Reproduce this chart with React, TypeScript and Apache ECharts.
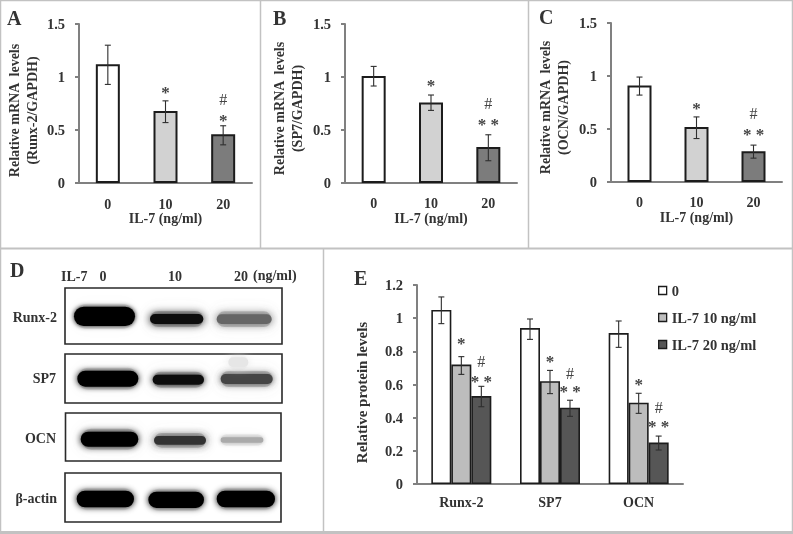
import React, { useEffect, useRef } from "react";
import * as echarts from "echarts";

const doseLabels = ["0", "10", "20"];
const proteinLabels = ["Runx-2", "SP7", "OCN"];
const legendNames = ["0", "IL-7 10 ng/ml", "IL-7 20 ng/ml"];

const aMean = [1.12, 0.68, 0.46];
const aHigh = [1.3, 0.775, 0.54];
const aLow = [0.93, 0.57, 0.36];
const bMean = [1.01, 0.76, 0.34];
const bHigh = [1.1, 0.83, 0.455];
const bLow = [0.915, 0.685, 0.21];
const cMean = [0.91, 0.52, 0.29];
const cHigh = [0.99, 0.614, 0.348];
const cLow = [0.82, 0.41, 0.225];

const eMean0 = [1.05, 0.94, 0.91];
const eHigh0 = [1.128, 0.995, 0.983];
const eLow0 = [0.967, 0.872, 0.824];
const eMean10 = [0.72, 0.62, 0.49];
const eHigh10 = [0.768, 0.685, 0.547];
const eLow10 = [0.661, 0.545, 0.426];
const eMean20 = [0.53, 0.46, 0.25];
const eHigh20 = [0.589, 0.505, 0.289];
const eLow20 = [0.466, 0.408, 0.205];

const aMarks: [number, number, string][] = [[1, 0.879, "*"], [2, 0.79, "#"], [2, 0.615, "*"]];
const bMarks: [number, number, string][] = [[1, 0.941, "*"], [2, 0.747, "#"], [2, 0.571, "* *"]];
const cMarks: [number, number, string][] = [[1, 0.717, "*"], [2, 0.642, "#"], [2, 0.473, "* *"]];
const eMarks10: [number, number, string][] = [[0, 0.864, "*"], [1, 0.752, "*"], [2, 0.613, "*"]];
const eMarks20: [number, number, string][] = [
  [0, 0.738, "#"], [0, 0.631, "* *"], [1, 0.667, "#"], [1, 0.571, "* *"], [2, 0.46, "#"], [2, 0.362, "* *"],
];

const FONT = "Liberation Serif";
const INK = "#333333";
const AXIS = "#808080";
const dosePalette = ["#ffffff", "#d2d2d2", "#7c7c7c"];
const proteinPalette = ["#ffffff", "#bdbdbd", "#565656"];

function errorSeries(name: string, idx: number, high: number[], low: number[], slot: number, slotWidth: number, z = 4) {
  return {
    type: "custom", name, xAxisIndex: idx, yAxisIndex: idx, z, silent: true,
    data: high.map((h, i) => [i, h, low[i]]),
    renderItem: (_: any, api: any) => {
      const top = api.coord([api.value(0), api.value(1)]);
      const bot = api.coord([api.value(0), api.value(2)]);
      const x = top[0] + slot * slotWidth;
      const s = { stroke: "#2e2e2e", lineWidth: 1.1 };
      return {
        type: "group",
        children: [
          { type: "line", shape: { x1: x, y1: top[1], x2: x, y2: bot[1] }, style: s },
          { type: "line", shape: { x1: x - 3, y1: top[1], x2: x + 3, y2: top[1] }, style: s },
          { type: "line", shape: { x1: x - 3, y1: bot[1], x2: x + 3, y2: bot[1] }, style: s },
        ],
      };
    },
  };
}

function markSeries(name: string, idx: number, marks: [number, number, string][], slot: number, slotWidth: number) {
  return {
    type: "custom", name, xAxisIndex: idx, yAxisIndex: idx, z: 5, silent: true,
    data: marks.map((m) => [m[0], m[1]]),
    renderItem: (params: any, api: any) => {
      const p = api.coord([api.value(0), api.value(1)]);
      const t = marks[params.dataIndex][2];
      const star = t !== "#";
      return {
        type: "text",
        x: p[0] + slot * slotWidth,
        y: p[1] + (star ? 2.5 : 0),
        style: {
          text: t, fontFamily: FONT, fontSize: star ? 17 : 16, fontWeight: star ? "bold" : "normal", fill: "#444444",
          textAlign: "center", textVerticalAlign: "middle", align: "center", verticalAlign: "middle",
        },
      };
    },
  };
}

function axes(idx: number, cats: string[], max: number, step: number, title: string, nameGap: number, titleSize: number, shift: number, xMargin: number, xTitle?: string) {
  const label = { fontFamily: FONT, fontSize: 14, fontWeight: "bold" as const, color: INK };
  return {
    x: {
      type: "category", gridIndex: idx, data: cats,
      axisLine: { lineStyle: { color: AXIS, width: 2 } },
      axisTick: { length: 3, lineStyle: { color: AXIS, width: 2 } },
      axisLabel: { ...label, margin: xMargin },
      name: xTitle, nameLocation: "middle", nameGap: 28,
      nameTextStyle: { ...label },
    },
    y: {
      type: "value", gridIndex: idx, min: 0, max, interval: step,
      splitLine: { show: false },
      axisLine: { show: true, lineStyle: { color: AXIS, width: 2 } },
      axisTick: { show: true, length: 4, lineStyle: { color: AXIS, width: 2 } },
      axisLabel: { ...label, margin: 14, fontSize: 14.5 },
      name: title, nameLocation: "middle", nameGap, nameRotate: 90, nameMoveOverlap: false,
      nameTextStyle: { fontFamily: FONT, fontSize: titleSize, fontWeight: "bold" as const, color: INK, lineHeight: 18, padding: [0, shift, 0, 0] },
    },
  };
}

function doseBars(name: string, idx: number, mean: number[]) {
  return {
    type: "bar", name, xAxisIndex: idx, yAxisIndex: idx, barWidth: 24, z: 3,
    data: mean.map((v, i) => ({ value: v, itemStyle: { color: dosePalette[i], borderColor: "#1c1c1c", borderWidth: 2 } })),
  };
}

function proteinBars(name: string, mean: number[], i: number) {
  return {
    type: "bar", name, xAxisIndex: 3, yAxisIndex: 3, barWidth: 20, barGap: 0, z: 3, data: mean,
    itemStyle: { color: proteinPalette[i], borderColor: "#1c1c1c", borderWidth: 1.6 },
  };
}

function txt(text: string, x: number, y: number, size: number, align = "left", color = INK) {
  return {
    type: "text", x, y, silent: true, z: 10,
    style: {
      text, fontFamily: FONT, fontWeight: "bold", fontSize: size, fill: color,
      textAlign: align, textVerticalAlign: "middle", align, verticalAlign: "middle",
    },
  };
}

function line(x1: number, y1: number, x2: number, y2: number, w = 1.5) {
  return { type: "line", silent: true, z: 0, shape: { x1, y1, x2, y2 }, style: { stroke: "#c2c2c2", lineWidth: w } };
}

function blotBox(x0: number, y0: number, x1: number, y1: number) {
  return { type: "rect", silent: true, z: 1, shape: { x: x0, y: y0, width: x1 - x0, height: y1 - y0 }, style: { fill: "#fff", stroke: "#2a2a2a", lineWidth: 1.6 } };
}

function band(x0: number, x1: number, y0: number, y1: number, core: string, blur: number, haze: number) {
  const x = x0 / 3, y = 250 + y0 / 3, w = (x1 - x0) / 3, h = (y1 - y0) / 3;
  return [
    { type: "rect", silent: true, z: 2, shape: { x: x, y: y - 3, width: w, height: h + 6, r: (h + 6) / 2 },
      style: { fill: `rgba(130,130,130,${haze})`, shadowBlur: 14, shadowColor: `rgba(130,130,130,${haze})` } },
    { type: "rect", silent: true, z: 3, shape: { x: x, y: y, width: w, height: h, r: h / 2 },
      style: { fill: core, shadowBlur: blur, shadowColor: core } },
  ];
}

export default function App() {
  const ref = useRef<HTMLDivElement>(null);
  useEffect(() => {
    document.body.style.margin = "0";
    document.body.style.background = "#fff";
    const chart = echarts.init(ref.current!, undefined, { renderer: "svg" });

    const axA = axes(0, doseLabels, 1.5, 0.5, "Relative mRNA  levels\n(Runx-2/GAPDH)", 38, 14, 14, 14, "IL-7 (ng/ml)");
    const axB = axes(1, doseLabels, 1.5, 0.5, "Relative mRNA  levels\n(SP7/GAPDH)", 39, 14, 10, 13, "IL-7 (ng/ml)");
    const axC = axes(2, doseLabels, 1.5, 0.5, "Relative mRNA  levels\n(OCN/GAPDH)", 39, 14, 10, 13, "IL-7 (ng/ml)");
    const axE = axes(3, proteinLabels, 1.2, 0.2, "Relative protein levels", 46, 15, 16, 11);

    const bands = [
      ...band(222, 405, 170, 228, "#000", 5, 0.15),
      ...band(450, 610, 192, 222, "#111", 8, 0.4),
      ...band(650, 815, 193, 222, "#666", 8, 0.4),
      ...band(232, 415, 362, 410, "#000", 6, 0.2),
      ...band(458, 612, 374, 404, "#111", 7, 0.4),
      ...band(662, 818, 372, 402, "#444", 7, 0.4),
      ...band(685, 745, 322, 352, "#e6e6e6", 8, 0.05),
      ...band(242, 415, 545, 590, "#050505", 7, 0.3),
      ...band(462, 618, 558, 584, "#333", 8, 0.35),
      ...band(662, 790, 562, 578, "#aaa", 5, 0.12),
      ...band(230, 402, 722, 772, "#000", 6, 0.12),
      ...band(445, 612, 725, 774, "#000", 6, 0.12),
      ...band(650, 825, 722, 772, "#000", 6, 0.12),
    ];

    chart.setOption({
      animation: false,
      backgroundColor: "#ffffff",
      textStyle: { fontFamily: FONT },
      grid: [
        { left: 79, top: 24, width: 173, height: 159, outerBoundsMode: "none" },
        { left: 345, top: 24, width: 172, height: 159, outerBoundsMode: "none" },
        { left: 611, top: 23, width: 171, height: 159, outerBoundsMode: "none" },
        { left: 417, top: 285, width: 266, height: 199, outerBoundsMode: "none" },
      ],
      xAxis: [axA.x, axB.x, axC.x, axE.x],
      yAxis: [axA.y, axB.y, axC.y, axE.y],
      legend: {
        orient: "vertical", left: 658, top: 283, padding: 0, icon: "rect", itemWidth: 8, itemHeight: 8, itemGap: 12,
        data: legendNames.map((name) => ({ name, itemStyle: { borderColor: "#1c1c1c", borderWidth: 1.3 } })),
        textStyle: { fontFamily: FONT, fontSize: 14.5, fontWeight: "bold", color: INK },
        selectedMode: false,
      },
      series: [
        doseBars("A", 0, aMean), errorSeries("A err", 0, aHigh, aLow, 0, 0), markSeries("A marks", 0, aMarks, 0, 0),
        doseBars("B", 1, bMean), errorSeries("B err", 1, bHigh, bLow, 0, 0), markSeries("B marks", 1, bMarks, 0, 0),
        doseBars("C", 2, cMean), errorSeries("C err", 2, cHigh, cLow, 0, 0), markSeries("C marks", 2, cMarks, 0, 0),
        proteinBars(legendNames[0], eMean0, 0),
        proteinBars(legendNames[1], eMean10, 1),
        proteinBars(legendNames[2], eMean20, 2),
        errorSeries("E err 0", 3, eHigh0, eLow0, -1, 20),
        errorSeries("E err 10", 3, eHigh10, eLow10, 0, 20),
        errorSeries("E err 20", 3, eHigh20, eLow20, 1, 20),
        markSeries("E marks 10", 3, eMarks10, 0, 20),
        markSeries("E marks 20", 3, eMarks20, 1, 20),
      ],
      graphic: [
        line(0.5, 0.5, 792.5, 0.5), line(0.5, 0, 0.5, 532), line(792.5, 0, 792.5, 532), line(0, 532.5, 793, 532.5, 3),
        line(0, 248.5, 793, 248.5, 2), line(260.5, 0, 260.5, 248), line(528.5, 0, 528.5, 248), line(323.5, 248, 323.5, 532),
        txt("A", 7, 18, 20), txt("B", 273, 18, 20), txt("C", 539, 17, 20), txt("D", 10, 270, 20), txt("E", 354, 278, 20),
        txt("IL-7", 61, 276, 14), txt("0", 103, 276, 14, "center"), txt("10", 175, 276, 14, "center"),
        txt("20", 241, 276, 14, "center"), txt("(ng/ml)", 253, 275, 14),
        txt("Runx-2", 57, 317, 14, "right"), txt("SP7", 56, 378, 14, "right"), txt("OCN", 56, 438, 14, "right"), txt("β-actin", 57, 498, 14, "right"),
        blotBox(65, 288, 282, 344), blotBox(65, 354, 282, 403), blotBox(65.5, 413, 281, 461), blotBox(65, 473, 281, 522),
        ...bands,
      ],
    });
    return () => chart.dispose();
  }, []);
  return <div ref={ref} style={{ position: "fixed", left: 0, top: 0, width: 793, height: 534, filter: "blur(0.4px)" }} />;
}
